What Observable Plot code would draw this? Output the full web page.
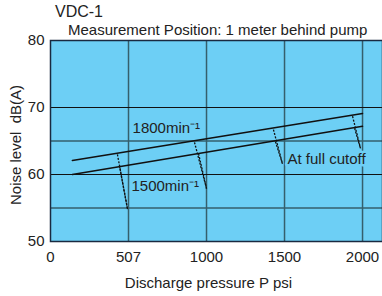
<!DOCTYPE html>
<html>
<head>
<meta charset="utf-8">
<script src="https://cdn.jsdelivr.net/npm/d3@7"></script>
<script src="https://cdn.jsdelivr.net/npm/@observablehq/plot@0.6"></script>
<style>
  html, body { margin: 0; padding: 0; background: #fff; }
  #wrap { position: relative; width: 382px; height: 296px; font-family: "Liberation Sans", Arial, sans-serif; color: #222; }
  #title { position: absolute; left: 55px; top: 2px; font-size: 16px; line-height: 20px; }
  #subtitle { position: absolute; left: 68px; top: 21px; font-size: 15px; line-height: 18px; }
  #chart { position: absolute; left: 0; top: 0; }
</style>
</head>
<body>
<div id="wrap">
  <div id="chart"></div>
  <div id="title">VDC-1</div>
  <div id="subtitle">Measurement Position: 1 meter behind pump</div>
</div>
<script>
// Axis ticks
const xTickValues = [0, 500, 1000, 1500, 2000];
const xTickLabels = ["0", "507", "1000", "1500", "2000"];
const yTickValues = [50, 60, 70, 80];
const gridMajorY = [60, 70];
const gridMinorY = [55, 65];
const gridX = [500, 1000, 1500, 2000];
const xTitle = "Discharge pressure P psi";
const yTitle = "Noise level  dB(A)";

// Solid lines: noise level vs discharge pressure
const pressure = [140, 2000];
const level1800 = [62.1, 69.1];
const level1500 = [60.0, 67.2];

// Dotted drops to "full cutoff"
const drop1800Pressure = [429, 923, 1429, 1936];
const drop1800Level = [63.0, 64.8, 66.7, 68.7];
const drop1500Pressure = [442, 949, 1442, 1949];
const drop1500Level = [61.3, 63.1, 64.9, 66.9];
const cutoffPressure = [494, 1000, 1487, 1987];
const cutoffLevel = [54.8, 57.9, 61.6, 63.9];

// Labels
const labelText = ["1800min\u207B\u00B9", "1500min\u207B\u00B9", "At full cutoff"];
const labelPressure = [526, 519, 1519];
const labelLevel = [66.9, 58.2, 62.3];

const line1800 = pressure.map((p, i) => ({p, v: level1800[i]}));
const line1500 = pressure.map((p, i) => ({p, v: level1500[i]}));
const drops = [];
cutoffPressure.forEach((cp, i) => {
  drops.push({x1: drop1800Pressure[i], y1: drop1800Level[i], x2: cp, y2: cutoffLevel[i]});
  drops.push({x1: drop1500Pressure[i], y1: drop1500Level[i], x2: cp, y2: cutoffLevel[i]});
});
const labels = labelText.map((t, i) => ({t, p: labelPressure[i], v: labelLevel[i]}));

const BLUE = "#6dcff5";
const GRID = "#355f6c";

const chart = Plot.plot({
  width: 382,
  height: 296,
  marginTop: 40,
  marginBottom: 55,
  marginLeft: 50,
  marginRight: 0,
  style: {fontFamily: "'Liberation Sans', Arial, sans-serif", fontSize: "15px", color: "#222", background: "transparent"},
  x: {domain: [0, 2128]},
  y: {domain: [50, 80]},
  marks: [
    Plot.frame({fill: BLUE}),
    Plot.ruleX(gridX, {stroke: GRID, strokeWidth: 1.5}),
    Plot.ruleY(gridMinorY, {stroke: GRID, strokeWidth: 1.5}),
    Plot.ruleY(gridMajorY, {stroke: "#111", strokeWidth: 1.2}),
    Plot.frame({stroke: "#1a2a40", strokeWidth: 1.5}),
    Plot.line(line1800, {x: "p", y: "v", stroke: "#111", strokeWidth: 1.5}),
    Plot.line(line1500, {x: "p", y: "v", stroke: "#111", strokeWidth: 1.5}),
    Plot.link(drops, {x1: "x1", y1: "y1", x2: "x2", y2: "y2", stroke: "#111", strokeWidth: 1.3, strokeDasharray: "2,1.5"}),
    Plot.text(labels, {x: "p", y: "v", text: "t", textAnchor: "start", fill: "#222", stroke: BLUE, strokeWidth: 5, fontSize: 15}),
    Plot.axisX({ticks: xTickValues, tickFormat: (d) => xTickLabels[xTickValues.indexOf(d)], tickSize: 0, tickPadding: 10, label: null}),
    Plot.axisY({ticks: yTickValues, tickSize: 0, tickPadding: 6, label: null}),
    Plot.text([xTitle], {frameAnchor: "bottom", textAnchor: "middle", lineAnchor: "middle", dx: -8, dy: 42, fontSize: 15, fill: "#222"}),
    Plot.text([yTitle], {frameAnchor: "left", textAnchor: "middle", lineAnchor: "middle", rotate: -90, dx: -34, dy: 4, fontSize: 15, fill: "#222"})
  ]
});
document.getElementById("chart").appendChild(chart);
</script>
</body>
</html>
